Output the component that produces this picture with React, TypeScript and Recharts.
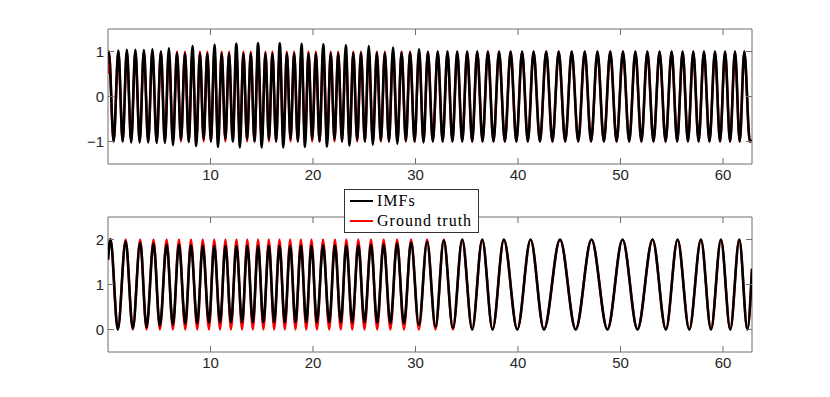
import React from "react";
import { LineChart, Line, XAxis, YAxis, ReferenceArea, Legend } from "recharts";

// ---- data ----
const X_MAX = 62.83;
const X_TICKS = [10, 20, 30, 40, 50, 60];
const TOP_Y_TICKS = [-1, 0, 1];
const BOTTOM_Y_TICKS = [0, 1, 2];

// upper panel: extrema positions
const topPeakX = [
  0.08, 1.01, 1.84, 2.67, 3.5, 4.33, 5.16, 5.94, 6.73, 7.51,
  8.24, 8.97, 9.69, 10.39, 11.09, 11.81, 12.52, 13.21, 13.93, 14.64,
  15.36, 16.04, 16.76, 17.45, 18.16, 18.88, 19.56, 20.28, 21.0, 21.73,
  22.46, 23.2, 23.93, 24.68, 25.44, 26.23, 27.01, 27.81, 28.64, 29.47,
  30.35, 31.21, 32.17, 33.12, 34.07, 35.04, 36.02, 37.06, 38.15, 39.28,
  40.4, 41.52, 42.75, 43.97, 45.24, 46.51, 47.75, 49.0, 50.24, 51.45,
  52.62, 53.81, 54.99, 56.06, 57.1, 58.14, 59.22, 60.2, 61.17, 62.08,
];
const topTroughX = [
  0.55, 1.43, 2.26, 3.09, 3.92, 4.75, 5.55, 6.34, 7.12, 7.88,
  8.61, 9.33, 10.04, 10.74, 11.45, 12.17, 12.87, 13.57, 14.29, 15.0,
  15.7, 16.4, 17.11, 17.81, 18.52, 19.22, 19.92, 20.64, 21.37, 22.1,
  22.83, 23.57, 24.31, 25.06, 25.84, 26.62, 27.41, 28.23, 29.06, 29.91,
  30.78, 31.69, 32.65, 33.6, 34.56, 35.53, 36.54, 37.61, 38.72, 39.84,
  40.96, 42.14, 43.36, 44.61, 45.88, 47.13, 48.38, 49.62, 50.85, 52.04,
  53.22, 54.4, 55.53, 56.58, 57.62, 58.68, 59.71, 60.69, 61.63, 62.62,
];
const topImfPeak = [
  1.0, 1.02, 1.04, 1.04, 1.03, 1.05, 1.0, 1.07, 0.97, 0.96,
  1.12, 0.96, 0.96, 1.15, 0.96, 0.96, 1.17, 0.96, 0.96, 1.18,
  0.96, 0.96, 1.18, 0.96, 0.96, 1.17, 0.96, 0.96, 1.16, 0.96,
  0.96, 1.14, 0.97, 0.97, 1.12, 0.97, 0.97, 1.09, 0.98, 0.98,
  1.05, 0.99, 1.0, 1.0, 1.0, 1.0, 1.0, 1.0, 1.0, 1.0,
  1.0, 1.0, 1.0, 1.0, 1.0, 1.0, 1.0, 1.0, 1.0, 1.0,
  1.0, 1.0, 1.0, 1.0, 1.0, 1.0, 1.0, 1.0, 1.0, 1.0,
];
const topImfTrough = [
  -1.0, -1.0, -1.02, -1.02, -1.02, -1.03, -1.03, -1.08, -0.96, -1.01,
  -1.1, -0.95, -1.0, -1.12, -0.95, -1.0, -1.13, -0.95, -1.0, -1.13,
  -0.95, -1.0, -1.13, -0.95, -1.0, -1.12, -0.95, -1.0, -1.11, -0.96,
  -1.0, -1.09, -0.97, -1.0, -1.07, -0.98, -1.0, -1.05, -0.99, -1.0,
  -1.02, -1.0, -1.0, -1.0, -1.0, -1.0, -1.0, -1.0, -1.0, -1.0,
  -1.0, -1.0, -1.0, -1.0, -1.0, -1.0, -1.0, -1.0, -1.0, -1.0,
  -1.0, -1.0, -1.0, -1.0, -1.0, -1.0, -1.0, -1.0, -1.0, -1.0,
];
const topTruthPeak = 1;
const topTruthTrough = -1;
const topImfEnds = [0.97, -0.97];
const topTruthEnds = [0.5, -0.97];

// lower panel: extrema positions
const bottomPeakX = [
  0.24, 1.72, 3.14, 4.44, 5.72, 6.92, 8.09, 9.24, 10.36, 11.46,
  12.53, 13.59, 14.64, 15.69, 16.73, 17.77, 18.82, 19.85, 20.98, 22.14,
  23.25, 24.42, 25.66, 26.89, 28.2, 29.57, 31.13, 32.76, 34.56, 36.51,
  38.62, 41.23, 44.1, 47.17, 50.2, 53.13, 55.57, 57.85, 59.8, 61.59,
];
const bottomTroughX = [
  0.96, 2.42, 3.76, 5.06, 6.33, 7.54, 8.71, 9.85, 10.93, 12.0,
  13.08, 14.13, 15.16, 16.21, 17.25, 18.29, 19.34, 20.38, 21.58, 22.71,
  23.83, 25.02, 26.26, 27.55, 28.87, 30.33, 31.95, 33.65, 35.53, 37.52,
  39.93, 42.53, 45.63, 48.73, 51.66, 54.43, 56.71, 58.83, 60.71, 62.38,
];
const bottomImfPeak = [
  2.01, 1.96, 1.93, 1.91, 1.89, 1.88, 1.87, 1.86, 1.86, 1.86,
  1.86, 1.86, 1.86, 1.86, 1.86, 1.86, 1.86, 1.86, 1.87, 1.87,
  1.87, 1.87, 1.88, 1.89, 1.91, 1.93, 1.95, 1.98, 2.0, 2.0,
  2.0, 2.0, 2.0, 2.0, 2.0, 2.0, 2.0, 2.0, 2.0, 2.0,
];
const bottomImfTrough = [
  0.0, 0.02, 0.05, 0.08, 0.11, 0.13, 0.14, 0.15, 0.16, 0.16,
  0.16, 0.16, 0.16, 0.16, 0.16, 0.16, 0.16, 0.16, 0.16, 0.16,
  0.16, 0.16, 0.15, 0.14, 0.13, 0.1, 0.06, 0.03, 0.0, 0.0,
  0.0, 0.0, 0.0, 0.0, 0.0, 0.0, 0.0, 0.0, 0.0, 0.0,
];
const bottomTruthPeak = 2;
const bottomTruthTrough = 0;
const bottomImfEnds = [1.55, 1.35];
const bottomTruthEnds = [1.55, 1.35];

const LEGEND_ITEMS = [
  { label: "IMFs", color: "#000000" },
  { label: "Ground truth", color: "#ff0000" },
];

// ---- layout ----
const W = 830;
const PLOT_LEFT = 108;
const PLOT_RIGHT = 752;
const Y_AXIS_W = 40;
const TICK_LEN = 6;
const AXIS_COLOR = "#6e6e6e";
const TEXT_COLOR = "#262626";
const SANS = "'Liberation Sans', Arial, sans-serif";

type Pt = { x: number; y: number };

function buildSeries(
  peakX: number[],
  peakY: number[] | number,
  troughX: number[],
  troughY: number[] | number,
  ends: number[]
): Pt[] {
  const pts: Pt[] = [{ x: 0, y: ends[0] }];
  peakX.forEach((px, i) => {
    pts.push({ x: px, y: Array.isArray(peakY) ? peakY[i] : peakY });
    if (i < troughX.length) {
      pts.push({ x: troughX[i], y: Array.isArray(troughY) ? troughY[i] : troughY });
    }
  });
  pts.push({ x: X_MAX, y: ends[1] });
  return pts;
}

const topImf = buildSeries(topPeakX, topImfPeak, topTroughX, topImfTrough, topImfEnds);
const topTruth = buildSeries(topPeakX, topTruthPeak, topTroughX, topTruthTrough, topTruthEnds);
const bottomImf = buildSeries(bottomPeakX, bottomImfPeak, bottomTroughX, bottomImfTrough, bottomImfEnds);
const bottomTruth = buildSeries(bottomPeakX, bottomTruthPeak, bottomTroughX, bottomTruthTrough, bottomTruthEnds);

const fmt = (v: number) => (v < 0 ? "\u2212" + Math.abs(v) : String(v));

const makeXTick = (top: number, bottom: number) => (props: any) => {
  const { x, payload } = props;
  return (
    <g>
      <line x1={x} x2={x} y1={bottom} y2={bottom - TICK_LEN} stroke={AXIS_COLOR} />
      <line x1={x} x2={x} y1={top} y2={top + TICK_LEN} stroke={AXIS_COLOR} />
      <text x={x} y={bottom + 16} textAnchor="middle" fontSize={15} fontFamily={SANS} fill={TEXT_COLOR}>
        {payload.value}
      </text>
    </g>
  );
};

const makeYTick = () => (props: any) => {
  const { y, payload } = props;
  return (
    <g>
      <line x1={PLOT_LEFT} x2={PLOT_LEFT + TICK_LEN} y1={y} y2={y} stroke={AXIS_COLOR} />
      <line x1={PLOT_RIGHT} x2={PLOT_RIGHT - TICK_LEN} y1={y} y2={y} stroke={AXIS_COLOR} />
      <text x={PLOT_LEFT - 4} y={y} dy="0.36em" textAnchor="end" fontSize={15} fontFamily={SANS} fill={TEXT_COLOR}>
        {fmt(payload.value)}
      </text>
    </g>
  );
};

const renderLegend = () => (
  <div
    style={{
      width: 135,
      boxSizing: "border-box",
      border: "1px solid #333333",
      background: "#ffffff",
      padding: "1px 5px",
    }}
  >
    {LEGEND_ITEMS.map((item) => (
      <div
        key={item.label}
        style={{ display: "flex", alignItems: "center", height: 20, whiteSpace: "nowrap" }}
      >
        <svg width={23} height={4} style={{ display: "block", flexShrink: 0 }}>
          <line x1={0} x2={23} y1={2} y2={2} stroke={item.color} strokeWidth={2} />
        </svg>
        <span
          style={{
            marginLeft: 4,
            fontFamily: "'Liberation Serif', 'Times New Roman', serif",
            fontSize: 16,
            letterSpacing: 1.0,
            color: "#000000",
            lineHeight: "20px",
            whiteSpace: "nowrap",
            flexShrink: 0,
          }}
        >
          {item.label}
        </span>
      </div>
    ))}
  </div>
);

interface PanelProps {
  imf: Pt[];
  truth: Pt[];
  yDomain: [number, number];
  yTicks: number[];
  height: number;
  top: number;
  bottom: number;
  withLegend?: boolean;
}

function Panel({ imf, truth, yDomain, yTicks, height, top, bottom, withLegend }: PanelProps) {
  const xH = withLegend ? 25 : 21;
  return (
    <LineChart
      width={W}
      height={height}
      margin={{ top, right: W - PLOT_RIGHT, left: PLOT_LEFT - Y_AXIS_W, bottom }}
    >
      <XAxis
        dataKey="x"
        type="number"
        domain={[0, X_MAX]}
        allowDataOverflow
        ticks={X_TICKS}
        interval={0}
        axisLine={false}
        tickLine={false}
        height={xH}
        tick={makeXTick(top, height - bottom - xH)}
      />
      <YAxis
        type="number"
        domain={yDomain}
        allowDataOverflow
        ticks={yTicks}
        interval={0}
        axisLine={false}
        tickLine={false}
        width={Y_AXIS_W}
        tick={makeYTick()}
      />
      <Line
        data={truth}
        dataKey="y"
        type="monotone"
        stroke="#ff0000"
        strokeWidth={2.4}
        dot={false}
        activeDot={false}
        isAnimationActive={false}
      />
      <Line
        data={imf}
        dataKey="y"
        type="monotone"
        stroke="#000000"
        strokeWidth={2.6}
        dot={false}
        activeDot={false}
        isAnimationActive={false}
      />
      <ReferenceArea
        x1={0}
        x2={X_MAX}
        y1={yDomain[0]}
        y2={yDomain[1]}
        fill="none"
        fillOpacity={0}
        stroke={AXIS_COLOR}
        strokeWidth={1}
        ifOverflow="visible"
      />
      {withLegend && (
        <Legend
          layout="vertical"
          align="center"
          verticalAlign="middle"
          content={renderLegend}
          wrapperStyle={{ left: 344, top: 4, width: 135 }}
        />
      )}
    </LineChart>
  );
}

export default function App() {
  return (
    <div style={{ position: "absolute", left: 0, top: 0, width: W, height: 397, background: "#ffffff" }}>
      <div style={{ position: "absolute", left: 0, top: 0 }}>
        <Panel
          imf={topImf}
          truth={topTruth}
          yDomain={[-1.5, 1.5]}
          yTicks={TOP_Y_TICKS}
          height={185}
          top={29}
          bottom={0}
        />
      </div>
      <div style={{ position: "absolute", left: 0, top: 185 }}>
        <Panel
          imf={bottomImf}
          truth={bottomTruth}
          yDomain={[-0.5, 2.5]}
          yTicks={BOTTOM_Y_TICKS}
          height={212}
          top={32}
          bottom={20}
          withLegend
        />
      </div>
    </div>
  );
}
